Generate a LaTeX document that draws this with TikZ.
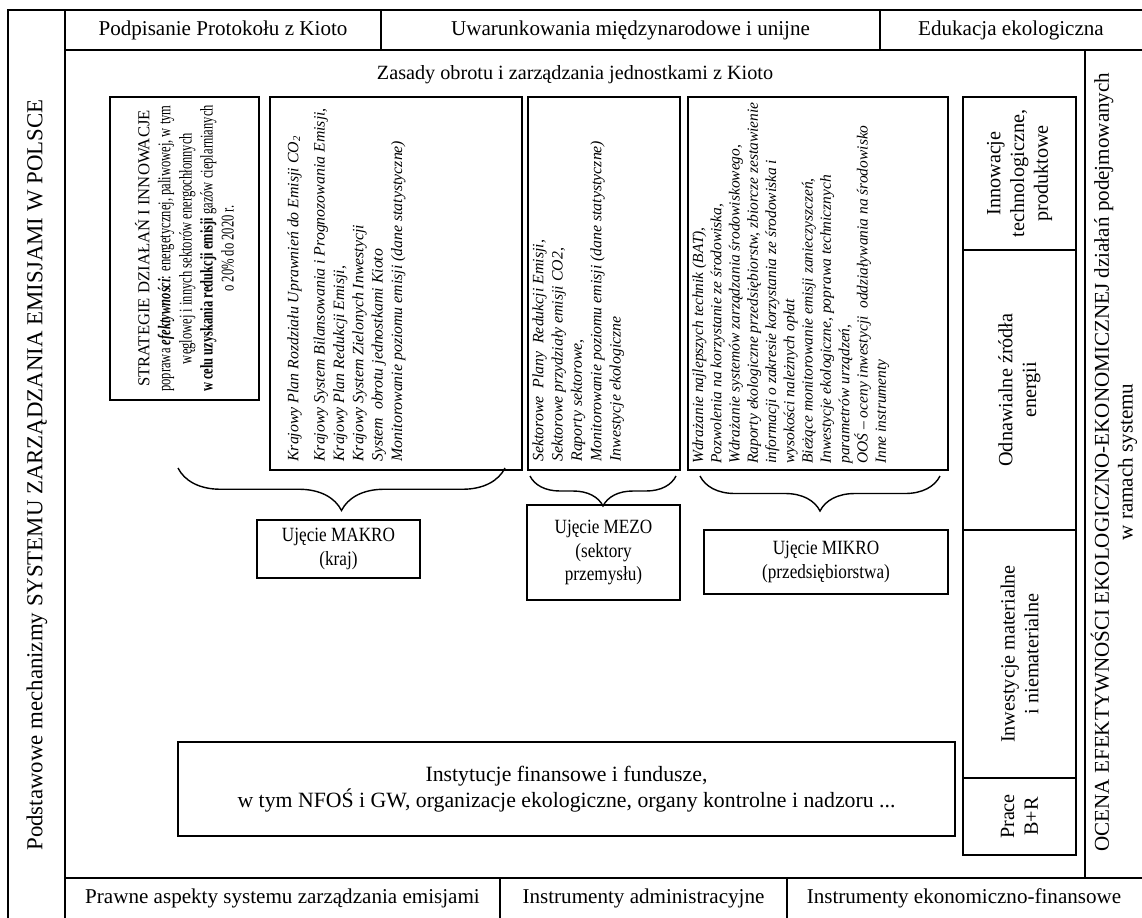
\documentclass[tikz,border=0pt]{standalone}
\usepackage{fontspec}
\setmainfont{Liberation Serif}
\newfontfamily\narrowfont[FakeStretch=0.7]{Liberation Serif}
\newfontfamily\condfont[FakeStretch=0.85]{Liberation Serif}
\usetikzlibrary{positioning,calc,fit,decorations.pathreplacing}

\begin{document}
\begin{tikzpicture}[x=0.02cm,y=-0.02cm]
  \tikzstyle{box}=[draw,line width=0.8pt,inner sep=0pt]
  \tikzstyle{txt}=[font=\fontsize{11.5}{13.5}\selectfont,align=center,inner sep=0pt]
  \tikzstyle{vtxt}=[txt,rotate=90]
  \tikzstyle{lst}=[font=\fontsize{9}{11}\selectfont\itshape,align=left,inner sep=0pt,rotate=90,anchor=north west]
  \tikzstyle{brc}=[decorate,line width=0.8pt]

  \useasboundingbox (0,0) rectangle (1142,917);
  \clip (0,0) rectangle (1142,917);

  % ramy zewnetrzne
  \node[box,fit={(8,10) (65,930)}] (left) {};
  \node[vtxt,font=\fontsize{13}{15}\selectfont] (lefttxt) at (37,475) {Podstawowe mechanizmy SYSTEMU ZARZĄDZANIA EMISJAMI W POLSCE};
  \node[box,fit={(65,10) (381,50)}] (top1) {};
  \node[box,fit={(381,10) (880,50)}] (top2) {};
  \node[box,fit={(880,10) (1150,50)}] (top3) {};
  \node[txt,font=\fontsize{12}{14}\selectfont] (kioto) at (top1.center) {Podpisanie Protokołu z Kioto};
  \node[txt,font=\fontsize{12}{14}\selectfont] (uwar) at (top2.center) {Uwarunkowania międzynarodowe i unijne};
  \node[txt,font=\fontsize{12}{14}\selectfont] (eduk) at (1011,30) {Edukacja ekologiczna};
  \node[box,fit={(65,50) (1085,878)}] (main) {};
  \node[box,fit={(1085,50) (1150,878)}] (ocena) {};
  \node[vtxt,font=\fontsize{12}{13.5}\selectfont] (ocenatxt) at (1114,462) {OCENA EFEKTYWNOŚCI EKOLOGICZNO-EKONOMICZNEJ działań podejmowanych\\w ramach systemu};
  \node[box,fit={(65,878) (500,930)}] (bot1) {};
  \node[box,fit={(500,878) (787,930)}] (bot2) {};
  \node[box,fit={(787,878) (1150,930)}] (bot3) {};
  \coordinate (by) at (0,898);
  \coordinate (ek) at (964,898);
  \node[txt,font=\fontsize{12}{14}\selectfont] (prawne) at (bot1.north |- by) {Prawne aspekty systemu zarządzania emisjami};
  \node[txt,font=\fontsize{12}{14}\selectfont] (admin) at (bot2.north |- by) {Instrumenty administracyjne};
  \node[txt,font=\fontsize{12}{14}\selectfont] (ekon) at (ek) {Instrumenty ekonomiczno-finansowe};

  \node[txt] (zasady) at (575,75) {Zasady obrotu i zarządzania jednostkami z Kioto};

  % strategie i ujecia
  \node[box,fit={(110,97) (259,400)}] (strat) {};
  \node[vtxt,font=\narrowfont\fontsize{10.2}{12}\selectfont] (strattxt) at (strat.center) {{\rmfamily\fontsize{9.5}{12}\selectfont STRATEGIE DZIAŁAŃ I INNOWACJE}\\poprawa \textbf{\textit{efektywności}}: energetycznej, paliwowej, w tym\\węglowej i innych sektorów energochłonnych\\\textbf{w celu uzyskania redukcji emisji} gazów cieplarnianych\\o 20\% do 2020 r.};

  \node[box,fit={(270,97) (522,470)}] (kraj) {};
  \node[lst] (krajtxt) at (287,462) {Krajowy Plan Rozdziału Uprawnień do Emisji CO\textsubscript{2}\\[4pt]Krajowy System Bilansowania i Prognozowania Emisji,\\Krajowy Plan Redukcji Emisji,\\Krajowy System Zielonych Inwestycji\\System\ \ obrotu jednostkami Kioto\\Monitorowanie poziomu emisji (dane statystyczne)};

  \node[box,fit={(528,97) (680,470)}] (sekt) {};
  \node[lst] (sekttxt) at (532,462) {Sektorowe\ \ Plany\ \ Redukcji Emisji,\\Sektorowe przydziały emisji CO2,\\Raporty sektorowe,\\Monitorowanie poziomu emisji (dane statystyczne)\\Inwestycje ekologiczne};

  \node[box,fit={(688,97) (948,470)}] (przed) {};
  \node[lst,font=\fontsize{8.8}{10.4}\selectfont\itshape] (przedtxt) at (692,464) {Wdrażanie najlepszych technik (BAT),\\Pozwolenia na korzystanie ze środowiska,\\Wdrażanie systemów zarządzania środowiskowego,\\Raporty ekologiczne przedsiębiorstw, zbiorcze zestawienie\\informacji o zakresie korzystania ze środowiska i\\wysokości należnych opłat\\Bieżące monitorowanie emisji zanieczyszczeń,\\Inwestycje ekologiczne, poprawa technicznych\\parametrów urządzeń,\\OOŚ -- oceny inwestycji\ \ oddziaływania na środowisko\\Inne instrumenty};

  % klamry
  \coordinate (b1r) at (505,468);
  \coordinate (b1l) at (178,468);
  \coordinate (b2r) at (676,476);
  \coordinate (b2l) at (530,476);
  \coordinate (b3r) at (940,476);
  \coordinate (b3l) at (700,476);
  \draw[brc,decoration={brace,amplitude=0.85cm}] (b1r) -- (b1l);
  \draw[brc,decoration={brace,amplitude=0.6cm}] (b2r) -- (b2l);
  \draw[brc,decoration={brace,amplitude=0.7cm}] (b3r) -- (b3l);

  \node[box,fit={(257,520) (420,578)}] (makro) {};
  \node[txt,font=\condfont\fontsize{11.5}{13.5}\selectfont] (makrotxt) at (makro.center) {Ujęcie MAKRO\\(kraj)};
  \node[box,fit={(527,505) (680,600)}] (mezo) {};
  \node[txt,font=\condfont\fontsize{11.5}{13.5}\selectfont] (mezotxt) at (mezo.center) {Ujęcie MEZO\\(sektory\\przemysłu)};
  \node[box,fit={(704,530) (948,594)}] (mikro) {};
  \node[txt,font=\condfont\fontsize{11.5}{13.5}\selectfont] (mikrotxt) at (mikro.center) {Ujęcie MIKRO\\(przedsiębiorstwa)};

  \node[box,fit={(178,742) (955,836)}] (inst) {};
  \node[txt,font=\fontsize{12.4}{15}\selectfont] (insttxt) at (inst.center) {Instytucje finansowe i fundusze,\\w tym NFOŚ i GW, organizacje ekologiczne, organy kontrolne i nadzoru ...};

  % prawa kolumna
  \node[box,fit={(963,97) (1076,250)}] (innow) {};
  \node[box,fit={(963,250) (1076,530)}] (odnaw) {};
  \node[box,fit={(963,530) (1076,778)}] (inwest) {};
  \node[box,fit={(963,778) (1076,855)}] (prace) {};
  \node[vtxt] (innowtxt) at (innow.center) {Innowacje\\technologiczne,\\produktowe};
  \node[vtxt] (odnawtxt) at (odnaw.center) {Odnawialne źródła\\energii};
  \node[vtxt] (inwesttxt) at (inwest.center) {Inwestycje materialne\\i niematerialne};
  \node[vtxt] (pracetxt) at (prace.center) {Prace\\B+R};
\end{tikzpicture}
\end{document}
